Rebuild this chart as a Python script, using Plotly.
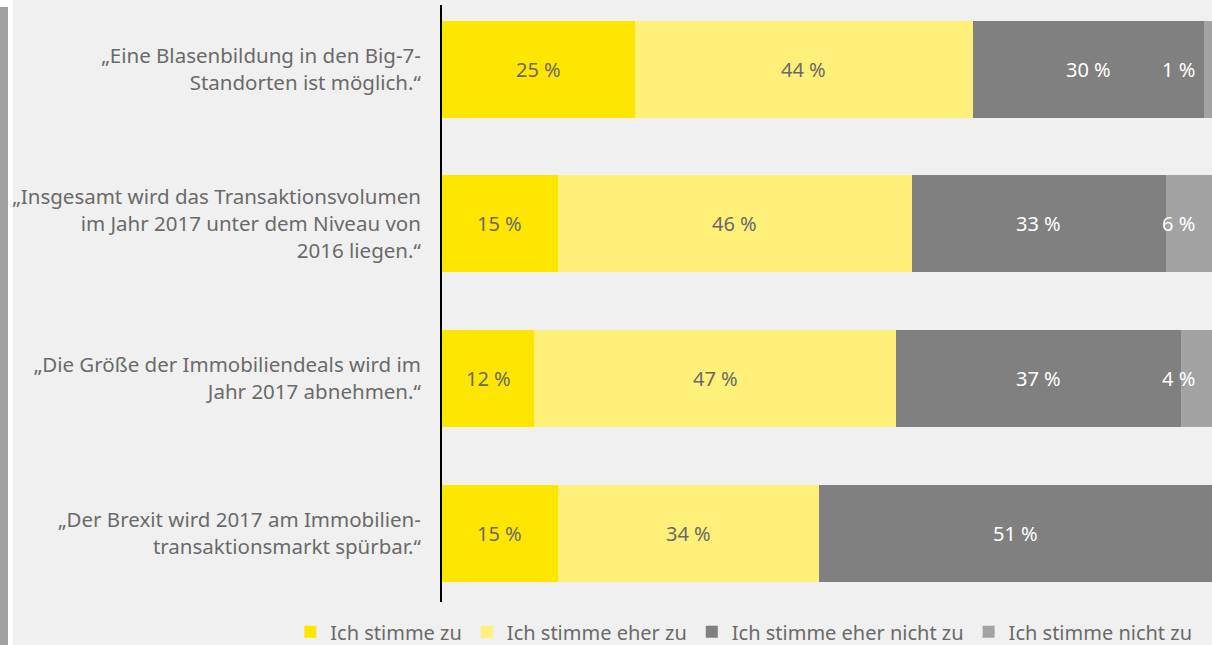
import plotly.graph_objects as go

# statements (y categories, top to bottom)
statements = [
    "„Eine Blasenbildung in den Big-7-<br>Standorten ist möglich.“",
    "„Insgesamt wird das Transaktionsvolumen<br>im Jahr 2017 unter dem Niveau von<br>2016 liegen.“",
    "„Die Größe der Immobiliendeals wird im<br>Jahr 2017 abnehmen.“",
    "„Der Brexit wird 2017 am Immobilien-<br>transaktionsmarkt spürbar.“",
]

series_names = ["Ich stimme zu", "Ich stimme eher zu", "Ich stimme eher nicht zu", "Ich stimme nicht zu"]
zu = [25, 15, 12, 15]
eher_zu = [44, 46, 47, 34]
eher_nicht_zu = [30, 33, 37, 51]
nicht_zu = [1, 6, 4, 0]

colors = ["#FFE600", "#FFF07A", "#808080", "#A3A3A3"]
label_colors = ["#6a6a6a", "#6a6a6a", "#ffffff", "#ffffff"]

all_values = [zu, eher_zu, eher_nicht_zu, nicht_zu]

fig = go.Figure()
for name, vals, col in zip(series_names, all_values, colors):
    fig.add_trace(go.Bar(
        y=statements, x=vals, name=name, orientation="h",
        marker=dict(color=col, line=dict(width=0)),
        width=0.627, hoverinfo="skip",
    ))

# value labels as annotations (small segments pushed to the right end)
annotations = []
for i, st in enumerate(statements):
    start = 0
    for s, vals in enumerate(all_values):
        v = vals[i]
        if v > 0:
            if v < 10:
                annotations.append(dict(x=98, y=st, text=f"{v} %", showarrow=False,
                                        xanchor="right", font=dict(size=20, color=label_colors[s])))
            else:
                annotations.append(dict(x=start + v / 2, y=st, text=f"{v} %", showarrow=False,
                                        font=dict(size=20, color=label_colors[s])))
        start += v

# left decoration strip
shapes = [
    dict(type="rect", xref="paper", yref="paper", x0=-442 / 770, x1=-429 / 770,
         y0=-43 / 597, y1=1.02, fillcolor="#ffffff", line=dict(width=0), layer="below"),
    dict(type="rect", xref="paper", yref="paper", x0=-442 / 770, x1=-434 / 770,
         y0=-43 / 597, y1=595 / 597, fillcolor="#a0a0a0", line=dict(width=0), layer="below"),
]

fig.update_layout(
    barmode="stack",
    width=1212, height=645,
    margin=dict(l=442, r=0, t=5, b=43, autoexpand=False),
    paper_bgcolor="#f0f0f0",
    plot_bgcolor="#f0f0f0",
    font=dict(family="Noto Sans, Open Sans, sans-serif", color="#6a6a6a"),
    xaxis=dict(range=[0, 100], visible=False, fixedrange=True),
    yaxis=dict(
        categoryorder="array", categoryarray=statements,
        range=[3.446, -0.414], fixedrange=True,
        showline=True, linecolor="#000000", linewidth=2,
        ticks="", ticklabelstandoff=15,
        tickfont=dict(size=20.5, color="#6a6a6a"),
        showgrid=False, zeroline=False,
    ),
    legend=dict(
        orientation="h", x=-0.197, xanchor="left", y=-0.05, yanchor="middle",
        font=dict(size=20, color="#6a6a6a"),
        bgcolor="rgba(0,0,0,0)", traceorder="normal", itemwidth=30,
    ),
    annotations=annotations,
    shapes=shapes,
    bargap=0,
)

fig.write_html("out.html", config={"displayModeBar": False},
               post_script="document.body.style.margin='0';")
